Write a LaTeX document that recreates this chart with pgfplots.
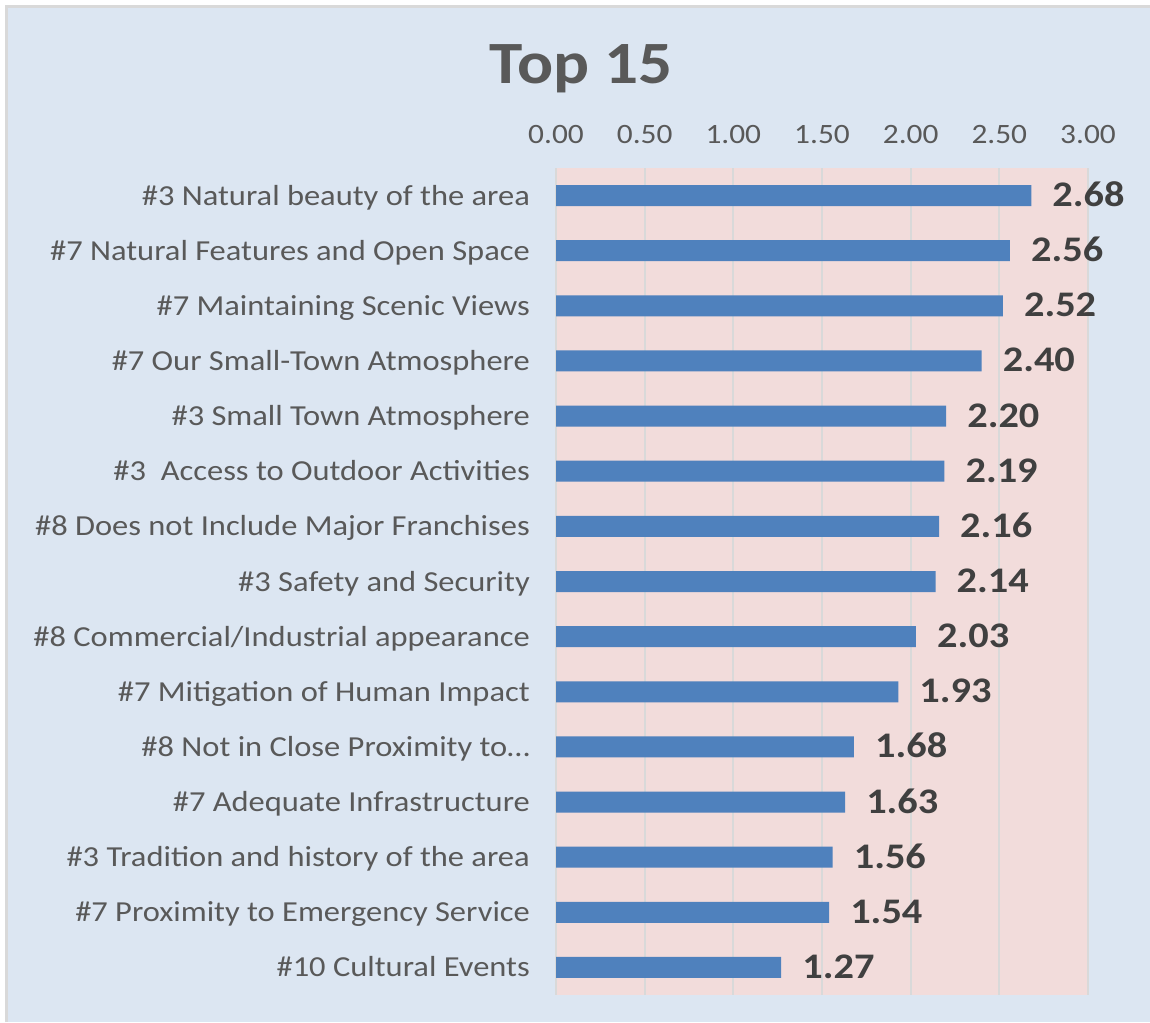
\documentclass[border=0pt]{standalone}
\usepackage{fontspec}
\setmainfont{Carlito}[FakeStretch=1.12]
\usepackage{pgfplots}
\pgfplotsset{compat=1.18}
\definecolor{bgblue}{HTML}{DCE6F2}
\definecolor{plotpink}{HTML}{F2DCDB}
\definecolor{barblue}{HTML}{4F81BD}
\definecolor{gridgray}{HTML}{D9D9D9}
\definecolor{txtgray}{HTML}{595959}
\definecolor{valgray}{HTML}{404040}
\begin{document}
\begin{tikzpicture}
\useasboundingbox (0,0) rectangle (1150pt,-1022pt);
\fill[white] (0,0) rectangle (1150pt,-1022pt);
\fill[bgblue] (8pt,-8pt) rectangle (1150pt,-1022pt);
\draw[gridgray, line width=2.5pt] (6.5pt,-1022pt) -- (6.5pt,-6.5pt) -- (1150pt,-6.5pt);
\node[anchor=base, inner sep=0pt, font=\fontsize{60}{72}\selectfont\bfseries, text=txtgray] at (581pt,-84pt) {Top 15};
\begin{axis}[
  at={(556pt,-168pt)}, anchor=north west,
  scale only axis, width=532pt, height=827pt,
  xbar, bar width=21pt,
  xmin=0, xmax=3, ymin=-0.5, ymax=14.5, y dir=reverse,
  axis background/.style={fill=plotpink},
  axis line style={draw=none},
  major tick length=0pt,
  tick style={draw=none},
  xmajorgrids,
  major grid style={draw=gridgray, line width=2pt},
  xtick={0,0.5,1,1.5,2,2.5,3},
  xticklabel pos=upper,
  xticklabels={0.00,0.50,1.00,1.50,2.00,2.50,3.00},
  xticklabel style={anchor=base, inner sep=0pt, yshift=25pt, font=\fontsize{28}{34}\selectfont, text=txtgray},
  ytick={0,1,...,14},
  yticklabels={
    {\#3 Natural beauty of the area},
    {\#7 Natural Features and Open Space},
    {\#7 Maintaining Scenic Views},
    {\#7 Our Small-Town Atmosphere},
    {\#3 Small Town Atmosphere},
    {\#3 \ Access to Outdoor Activities},
    {\#8 Does not Include Major Franchises},
    {\#3 Safety and Security},
    {\#8 Commercial/Industrial appearance},
    {\#7 Mitigation of Human Impact},
    {\#8 Not in Close Proximity to…},
    {\#7 Adequate Infrastructure},
    {\#3 Tradition and history of the area},
    {\#7 Proximity to Emergency Service},
    {\#10 Cultural Events}},
  yticklabel style={anchor=base east, inner sep=0pt, xshift=-26pt, yshift=-9.5pt, font=\fontsize{29}{35}\selectfont, text=txtgray},
  nodes near coords,
  nodes near coords style={anchor=base west, inner sep=0pt, xshift=21pt, yshift=-11pt, font=\fontsize{36}{42}\selectfont\bfseries, text=valgray,
    /pgf/number format/fixed, /pgf/number format/fixed zerofill, /pgf/number format/precision=2, /pgf/number format/assume math mode=true},
]
\addplot[fill=barblue, draw=none] coordinates {
  (2.68,0) (2.56,1) (2.52,2) (2.40,3) (2.20,4) (2.19,5) (2.16,6) (2.14,7)
  (2.03,8) (1.93,9) (1.68,10) (1.63,11) (1.56,12) (1.54,13) (1.27,14)};
\end{axis}
\end{tikzpicture}
\end{document}
